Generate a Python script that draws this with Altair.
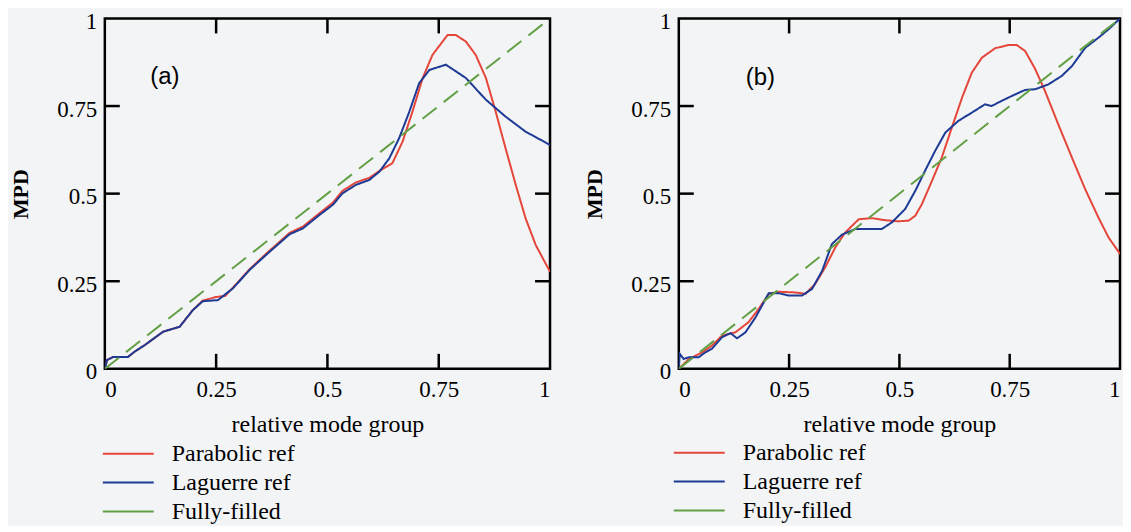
import altair as alt
import pandas as pd

SERIES = ["Parabolic ref", "Laguerre ref", "Fully-filled"]
COLORS = ["#e5463a", "#1d3a94", "#63a045"]
TICKS = [0.25, 0.5, 0.75]
AXIS_VALUES = [0, 0.25, 0.5, 0.75, 1]

# Panel (a)
a_par_x = [0, .005, .019, .052, .067, .09, .131, .168, .198, .22, .25, .27, .288, .325, .362, .415, .445, .482, .512, .534,
           .564, .594, .617, .646, .669, .691, .714, .736, .77, .788, .811, .833, .856, .878, .9, .923, .945, .968, 1.0]
a_par_y = [0, .025, .034, .034, .049, .068, .106, .12, .168, .195, .205, .208, .232, .284, .328, .388, .406, .444, .474, .508,
           .532, .545, .565, .587, .649, .734, .83, .896, .953, .953, .934, .896, .83, .734, .63, .525, .43, .353, .277]
a_lag_x = [0, .005, .019, .052, .067, .09, .131, .168, .198, .22, .254, .288, .325, .362, .415, .445, .482, .512, .534, .564,
           .594, .617, .639, .661, .684, .706, .729, .766, .811, .856, .9, .945, 1.0]
a_lag_y = [0, .025, .034, .034, .049, .068, .106, .12, .168, .193, .196, .23, .282, .325, .384, .401, .439, .468, .501, .525,
           .539, .563, .601, .658, .734, .815, .853, .868, .83, .768, .72, .677, .639]

# Panel (b)
b_par_x = [0, .023, .053, .075, .098, .128, .158, .181, .204, .226, .264, .287, .309, .332, .355, .377, .408, .438, .468, .498,
           .521, .536, .551, .574, .596, .619, .642, .664, .687, .717, .747, .766, .785, .808, .83, .86, .891, .921, .951, .974, 1.0]
b_par_y = [0, .028, .047, .066, .095, .104, .133, .171, .214, .22, .218, .214, .242, .29, .347, .389, .427, .43, .424, .421,
           .423, .437, .47, .537, .603, .689, .774, .845, .888, .915, .924, .924, .907, .855, .793, .698, .603, .513, .432, .375, .328]
b_lag_x = [0, .002, .011, .023, .045, .06, .075, .098, .117, .132, .151, .174, .204, .226, .249, .279, .302, .325, .347, .37,
           .4, .43, .46, .483, .513, .536, .558, .581, .604, .634, .664, .694, .709, .732, .762, .785, .808, .838, .868, .891,
           .921, .951, .974, 1.0]
b_lag_y = [0, .043, .028, .033, .033, .047, .057, .09, .102, .087, .104, .147, .216, .216, .209, .209, .228, .28, .356, .383,
           .399, .399, .399, .418, .456, .508, .565, .622, .674, .708, .731, .755, .75, .765, .783, .796, .798, .812, .836, .864,
           .916, .945, .969, 1.0]

full_x = [0, 1]
full_y = [0, 1]

H = 351
TL = 15
SERIF = "Liberation Serif"
LABEL_EXPR = "format(datum.value, '.2~f')"


def panel(par_x, par_y, lag_x, lag_y, tag, tag_x, tag_y, leg_x, leg_y, W):
    rows = []
    for name, xs_, ys_ in [(SERIES[0], par_x, par_y), (SERIES[1], lag_x, lag_y), (SERIES[2], full_x, full_y)]:
        for i, (x, y) in enumerate(zip(xs_, ys_)):
            rows.append({"x": x, "y": y, "series": name, "i": i})
    df = pd.DataFrame(rows)
    xs = alt.Scale(domain=[0, 1], nice=False, zero=False)
    ys = alt.Scale(domain=[0, 1], nice=False, zero=False)
    x_axis = alt.Axis(values=AXIS_VALUES, labelExpr=LABEL_EXPR, title="relative mode group",
                      labelPadding=10, titlePadding=11)
    y_axis = alt.Axis(values=AXIS_VALUES, labelExpr=LABEL_EXPR, title="MPD", labelOffset=3,
                      labelPadding=8, titlePadding=24, titleFontWeight="bold", titleFontSize=22)

    lines = alt.Chart(df).mark_line(strokeWidth=2, clip=True).encode(
        x=alt.X("x:Q", scale=xs, axis=x_axis),
        y=alt.Y("y:Q", scale=ys, axis=y_axis),
        color=alt.Color("series:N", sort=SERIES,
                        scale=alt.Scale(domain=SERIES, range=COLORS),
                        legend=alt.Legend(orient="none", legendX=leg_x, legendY=leg_y, title=None,
                                          symbolType="stroke", symbolSize=2601, symbolStrokeWidth=2,
                                          labelFont=SERIF, labelFontSize=24, labelColor="black",
                                          labelOffset=17, clipHeight=24, rowPadding=5, padding=0,
                                          labelLimit=400)),
        strokeDash=alt.condition(alt.datum.series == "Fully-filled", alt.value([18, 9]), alt.value([1, 0])),
        order="i:Q",
    )

    tdf = pd.DataFrame({"x": TICKS, "y": TICKS})
    rule = alt.Chart(tdf).mark_rule(color="black", strokeWidth=2.5)
    bottom = rule.encode(x=alt.X("x:Q", scale=xs, axis=x_axis), y=alt.value(H), y2=alt.value(H - TL))
    top = rule.encode(x=alt.X("x:Q", scale=xs, axis=x_axis), y=alt.value(0), y2=alt.value(TL))
    left = rule.encode(y=alt.Y("y:Q", scale=ys, axis=y_axis), x=alt.value(0), x2=alt.value(TL))
    right = rule.encode(y=alt.Y("y:Q", scale=ys, axis=y_axis), x=alt.value(W), x2=alt.value(W - TL))

    label = alt.Chart(pd.DataFrame({"x": [tag_x], "y": [tag_y], "t": [tag]})).mark_text(
        font="Liberation Sans", fontSize=24, color="black"
    ).encode(x=alt.X("x:Q", scale=xs, axis=x_axis), y=alt.Y("y:Q", scale=ys, axis=y_axis), text="t:N")

    return alt.layer(lines, bottom, top, left, right, label).properties(width=W, height=H)


pa = panel(a_par_x, a_par_y, a_lag_x, a_lag_y, "(a)", 0.135, 0.832, -3, 424, 446)
pb = panel(b_par_x, b_par_y, b_lag_x, b_lag_y, "(b)", 0.185, 0.829, -6, 423, 442)

chart = alt.hconcat(pa, pb, spacing=29).resolve_scale(
    x="independent", y="independent", color="independent"
).resolve_legend(color="independent").properties(
    padding={"left": 0, "top": 0, "right": 0, "bottom": 0},
    background="#f3f4f6",
).configure_view(
    stroke="black", strokeWidth=2.5
).configure_axis(
    grid=False, domain=False, ticks=False,
    labelFont=SERIF, labelFontSize=23, labelColor="black",
    titleFont=SERIF, titleFontSize=24, titleColor="black", titleFontWeight="normal",
)

chart.save("out.html", embed_options={"renderer": "svg", "actions": False})
